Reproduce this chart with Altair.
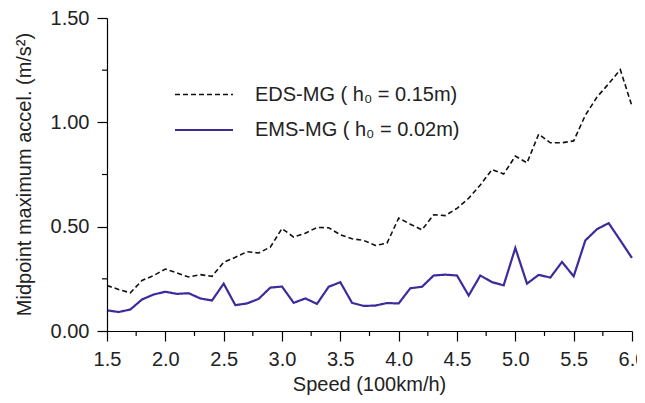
import altair as alt
import pandas as pd

speed = [round(1.5 + 0.1 * i, 1) for i in range(46)]

eds_mg = [0.218, 0.199, 0.183, 0.242, 0.266, 0.297, 0.278, 0.259, 0.270, 0.262,
          0.329, 0.353, 0.380, 0.374, 0.402, 0.491, 0.450, 0.469, 0.496, 0.495,
          0.461, 0.442, 0.434, 0.410, 0.421, 0.541, 0.512, 0.485, 0.557, 0.553,
          0.588, 0.636, 0.700, 0.774, 0.752, 0.838, 0.806, 0.943, 0.902, 0.902,
          0.911, 1.034, 1.121, 1.185, 1.252, 1.077]

ems_mg = [0.099, 0.091, 0.103, 0.151, 0.175, 0.188, 0.178, 0.181, 0.156, 0.146,
          0.227, 0.124, 0.132, 0.154, 0.208, 0.213, 0.135, 0.156, 0.130, 0.212,
          0.234, 0.135, 0.120, 0.122, 0.134, 0.132, 0.205, 0.212, 0.266, 0.270,
          0.266, 0.170, 0.266, 0.234, 0.219, 0.398, 0.227, 0.269, 0.256, 0.331,
          0.262, 0.434, 0.488, 0.517, 0.434, 0.350]

series_names = ["EDS-MG ( h\u2080 = 0.15m)", "EMS-MG ( h\u2080 = 0.02m)"]
series_colors = ["#111111", "#3d2b9c"]

x_major = [1.5, 2.0, 2.5, 3.0, 3.5, 4.0, 4.5, 5.0, 5.5, 6.0]
x_minor = [1.75, 2.25, 2.75, 3.25, 3.75, 4.25, 4.75, 5.25, 5.75]
y_major = [0.0, 0.5, 1.0, 1.5]
y_minor = [0.25, 0.75, 1.25]

W, H = 525, 313

rows = []
for name, vals in zip(series_names, [eds_mg, ems_mg]):
    for s, v in zip(speed, vals):
        rows.append({"speed": s, "accel": v, "series": name})
df = pd.DataFrame(rows)

FONT = "Liberation Sans"
common = dict(grid=False, ticks=True, tickSize=10, tickColor="black", tickWidth=1.2, tickOpacity=1,
              domainColor="black", domainWidth=1.2, zindex=1,
              labelFont=FONT, labelFontSize=20, labelColor="#222",
              labelFlush=False, labelOverlap=False, labelPadding=8)

x_axis = alt.Axis(
    orient="bottom", values=x_major, format=".1f",
    title="Speed (100km/h)", titleFont=FONT, titleFontSize=20, titleFontWeight="normal",
    titleColor="#222", titleX=262, titleY=59, titleBaseline="alphabetic",
    titleAlign="center", **common,
)
y_axis = alt.Axis(
    orient="left", values=y_major, format=".2f",
    title="Midpoint maximum accel. (m/s\u00b2)", titleFont=FONT, titleFontSize=20,
    titleFontWeight="normal", titleColor="#222", titleAngle=270,
    titleX=-93, titleY=156, titleBaseline="top", titleAlign="center", **common,
)

legend = alt.Legend(
    title=None, orient="none", legendX=86, legendY=66,
    symbolType="M-3,0H3", symbolSize=374, symbolStrokeWidth=2,
    labelFont=FONT, labelFontSize=20, labelColor="#222", labelOffset=40, labelLimit=0,
    rowPadding=14, padding=0,
)

xs = alt.Scale(domain=[1.5, 6.0], nice=False, zero=False)
ys = alt.Scale(domain=[0, 1.5], nice=False)

lines = alt.Chart(df).mark_line().encode(
    x=alt.X("speed:Q", scale=xs, axis=x_axis),
    y=alt.Y("accel:Q", scale=ys, axis=y_axis),
    color=alt.Color("series:N", scale=alt.Scale(domain=series_names, range=series_colors), legend=legend),
    strokeDash=alt.StrokeDash("series:N", scale=alt.Scale(domain=series_names, range=[[5, 3], [1, 0]]), legend=legend),
    strokeWidth=alt.StrokeWidth("series:N", scale=alt.Scale(domain=series_names, range=[1.6, 2.2]), legend=None),
)


def x_tick_layer(vals, length):
    return alt.Chart(pd.DataFrame({"speed": vals})).mark_rule(color="black", strokeWidth=1.2).encode(
        x=alt.X("speed:Q", scale=xs, axis=x_axis),
        y=alt.value(H), y2=alt.value(H + length),
    )


def y_tick_layer(vals, length):
    return alt.Chart(pd.DataFrame({"accel": vals})).mark_rule(color="black", strokeWidth=1.2).encode(
        y=alt.Y("accel:Q", scale=ys, axis=y_axis),
        x=alt.value(-length), x2=alt.value(0),
    )


chart = alt.layer(
    lines,
    x_tick_layer(x_minor, 5),
    y_tick_layer(y_minor, 5),
).properties(
    width=W, height=H,
    autosize=alt.AutoSizeParams(type="none"),
    padding={"left": 99, "top": 10, "right": 5, "bottom": 64},
).configure_view(stroke=None)

chart.save("out.html", embed_options={"renderer": "svg", "actions": False})
